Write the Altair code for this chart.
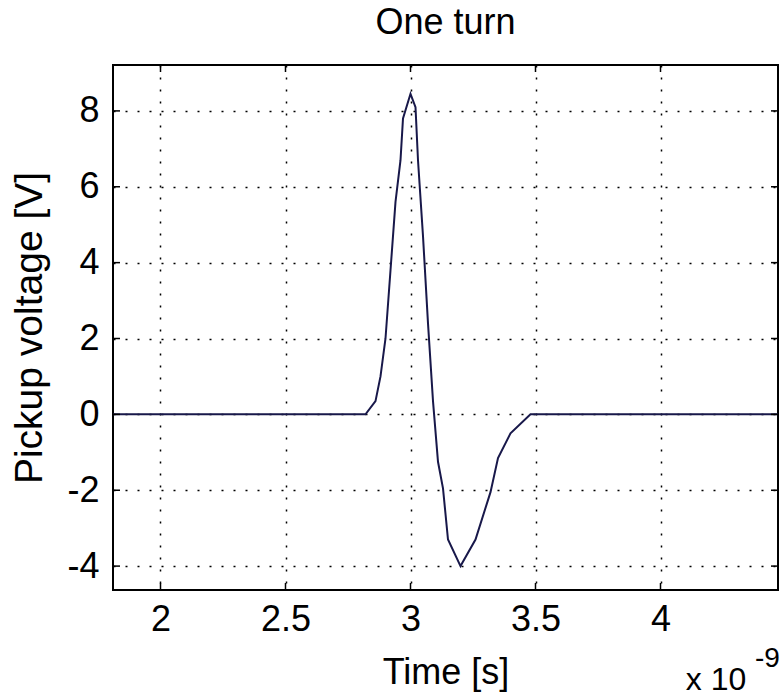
import altair as alt
import pandas as pd

# data (time in units of 1e-9 s, voltage in V)
time_ns = [1.81, 2.82, 2.86, 2.88, 2.90, 2.92, 2.94, 2.96, 2.97, 3.00, 3.02, 3.03,
           3.05, 3.07, 3.09, 3.11, 3.13, 3.15, 3.20, 3.26, 3.32, 3.35, 3.40, 3.48, 4.47]
voltage = [0, 0, 0.35, 1.0, 2.0, 3.8, 5.6, 6.7, 7.8, 8.45, 8.1, 6.7,
           4.7, 2.4, 0.35, -1.25, -1.95, -3.3, -4.0, -3.3, -2.05, -1.15, -0.5, 0, 0]
x_ticks = [2, 2.5, 3, 3.5, 4]
y_ticks = [-4, -2, 0, 2, 4, 6, 8]
x_domain = [1.81, 4.47]
y_domain = [-4.63, 9.21]

W, H = 665, 525
FONT = "Liberation Sans"
FS = 36
TL = 7

df = pd.DataFrame({"t": time_ns, "v": voltage})
xt = pd.DataFrame({"t": x_ticks})
yt = pd.DataFrame({"v": y_ticks})

xscale = alt.Scale(domain=x_domain, nice=False, zero=False)
yscale = alt.Scale(domain=y_domain, nice=False, zero=False)

line = alt.Chart(df).mark_line(color="#18184a", strokeWidth=2, clip=True).encode(
    x=alt.X("t:Q", scale=xscale,
            axis=alt.Axis(values=x_ticks, title="Time [s]", labelPadding=12,
                          titlePadding=18, labelExpr="'' + datum.value")),
    y=alt.Y("v:Q", scale=yscale,
            axis=alt.Axis(values=y_ticks, title="Pickup voltage [V]", labelPadding=14,
                          titlePadding=17, titleFontSize=39,
                          labelExpr="'' + datum.value")),
)

tick_bottom = alt.Chart(xt).mark_rule(color="black", strokeWidth=1.5).encode(
    x=alt.X("t:Q", scale=xscale), y=alt.value(H), y2=alt.value(H - TL))
tick_top = alt.Chart(xt).mark_rule(color="black", strokeWidth=1.5).encode(
    x=alt.X("t:Q", scale=xscale), y=alt.value(0), y2=alt.value(TL))
tick_left = alt.Chart(yt).mark_rule(color="black", strokeWidth=1.5).encode(
    y=alt.Y("v:Q", scale=yscale), x=alt.value(0), x2=alt.value(TL))
tick_right = alt.Chart(yt).mark_rule(color="black", strokeWidth=1.5).encode(
    y=alt.Y("v:Q", scale=yscale), x=alt.value(W), x2=alt.value(W - TL))

exp_base = alt.Chart(pd.DataFrame({"s": ["x 10"]})).mark_text(
    font=FONT, fontSize=32, align="center", baseline="alphabetic", color="black"
).encode(text="s:N", x=alt.value(603), y=alt.value(625))
exp_sup = alt.Chart(pd.DataFrame({"s": ["-9"]})).mark_text(
    font=FONT, fontSize=28, align="left", baseline="alphabetic", color="black"
).encode(text="s:N", x=alt.value(642), y=alt.value(602))

chart = alt.layer(line, tick_bottom, tick_top, tick_left, tick_right, exp_base, exp_sup).properties(
    width=W, height=H,
    title=alt.TitleParams("One turn", font=FONT, fontSize=FS, fontWeight="normal",
                          color="black", anchor="middle", offset=22),
    autosize=alt.AutoSizeParams(type="none"),
    padding={"left": 113, "top": 65, "right": 2, "bottom": 109},
    background="white",
).configure_view(
    stroke="black", strokeWidth=2
).configure_axis(
    domain=False, ticks=False, grid=True, gridColor="black", gridDash=[2, 10],
    gridWidth=1.5, gridOpacity=1,
    labelFont=FONT, labelFontSize=FS, labelColor="black",
    titleFont=FONT, titleFontSize=FS, titleFontWeight="normal", titleColor="black",
)

chart.save("out.html", embed_options={"renderer": "svg", "actions": False})
